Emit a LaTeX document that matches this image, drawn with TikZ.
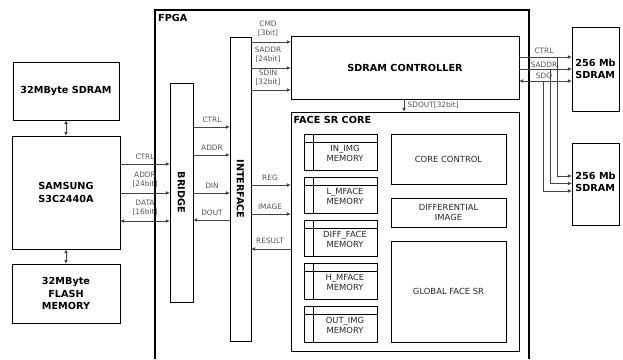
\documentclass[tikz,border=0pt]{standalone}
\usepackage{fontspec}
\setmainfont{DejaVu Sans}
\usetikzlibrary{arrows.meta}
\definecolor{lbl}{HTML}{555555}
\definecolor{ln}{HTML}{444444}
\begin{document}
\begin{tikzpicture}[x=1pt,y=-1pt,
 box/.style={draw=black, line width=0.9pt, anchor=north west, inner sep=0pt, outer sep=0pt},
 ttl/.style={font=\fontsize{9.7}{12.3}\selectfont\bfseries, align=center},
 lab/.style={font=\fontsize{7.4}{9}\selectfont, text=lbl, inner sep=0pt, align=center},
 inn/.style={font=\fontsize{8.4}{9.8}\selectfont, text=black!85, align=center, inner sep=0pt},
 conn/.style={draw=ln, line width=0.75pt},
 arr/.style={conn, -{Latex[length=4.2pt,width=3.8pt]}},
 darr/.style={conn, {Latex[length=4.2pt,width=3.8pt]}-{Latex[length=4.2pt,width=3.8pt]}},
]
\useasboundingbox (0,0) rectangle (623,359);

% FPGA frame
\draw[line width=1.7pt] (155,359) -- (155,10) -- (529,10) -- (529,359);
\node[font=\fontsize{9.7}{11}\selectfont\bfseries, anchor=west, inner sep=0pt] (fpga) at (158,17.5) {FPGA};

% left side boxes
\node[box, minimum width=106, minimum height=58] (sdram) at (13,62) {};
\node[ttl] (sdramt) at (sdram.center) {32MByte SDRAM};
\node[box, minimum width=108, minimum height=113] (samsung) at (12,136) {};
\node[ttl] (samsungt) at (samsung.center) {SAMSUNG\\S3C2440A};
\node[box, minimum width=108, minimum height=59] (flash) at (12,264) {};
\node[ttl] (flasht) at (flash.center) {32MByte\\FLASH\\MEMORY};
\draw[darr] (sdram.south) -- (samsung.north);
\draw[darr] (samsung.south) -- (flash.north);

% bridge and interface
\node[box, minimum width=23, minimum height=219] (bridge) at (170,83) {};
\node[ttl, rotate=-90] (bridget) at (bridge.center) {BRIDGE};
\node[box, minimum width=21, minimum height=304] (iface) at (230,37) {};
\node[ttl, rotate=-90] (ifacet) at (iface.center) {INTERFACE};

% samsung -> bridge
\draw[arr] (samsung.east |- 0,164) -- (bridge.west |- 0,164);
\draw[arr] (samsung.east |- 0,193) -- (bridge.west |- 0,193);
\draw[darr] (samsung.east |- 0,221) -- (bridge.west |- 0,221);
\node[lab] (l1) at (145,157) {CTRL};
\node[lab] (l2) at (145,179.5) {ADDR\\{[24bit]}};
\node[lab] (l3) at (145,208) {DATA\\{[16bit]}};

% bridge -> interface
\draw[arr] (bridge.east |- 0,127) -- (iface.west |- 0,127);
\draw[arr] (bridge.east |- 0,155) -- (iface.west |- 0,155);
\draw[arr] (bridge.east |- 0,193) -- (iface.west |- 0,193);
\draw[arr] (iface.west |- 0,220) -- (bridge.east |- 0,220);
\node[lab] (l4) at (212,120) {CTRL};
\node[lab] (l5) at (212,147.5) {ADDR};
\node[lab] (l6) at (212,185.5) {DIN};
\node[lab] (l7) at (212,213) {DOUT};

% SDRAM controller
\node[box, minimum width=228, minimum height=63] (ctl) at (291,36) {};
\node[ttl] (ctlt) at (ctl.center) {SDRAM CONTROLLER};
\draw[arr] (iface.east |- 0,42) -- (ctl.west |- 0,42);
\draw[arr] (iface.east |- 0,68) -- (ctl.west |- 0,68);
\draw[arr] (iface.east |- 0,90) -- (ctl.west |- 0,90);
\node[lab] (l8) at (268,29) {CMD\\{[3bit]}};
\node[lab] (l9) at (268,55) {SADDR\\{[24bit]}};
\node[lab] (l10) at (268,77.5) {SDIN\\{[32bit]}};

% FACE SR CORE
\node[box, minimum width=228, minimum height=239] (face) at (291,112) {};
\node[font=\fontsize{9.7}{11}\selectfont\bfseries, anchor=west, inner sep=0pt] (facet) at (293.5,119.5) {FACE SR CORE};
\draw[arr] (ctl.south -| 404,0) -- (face.north -| 404,0);
\node[lab, anchor=west] (l11) at (407.5,105) {SDOUT[32bit]};

% face <-> interface
\draw[arr] (iface.east |- 0,185) -- (face.west |- 0,185);
\draw[arr] (iface.east |- 0,214) -- (face.west |- 0,214);
\draw[arr] (face.west |- 0,249) -- (iface.east |- 0,249);
\node[lab] (l12) at (270,178) {REG};
\node[lab] (l13) at (270,206.5) {IMAGE};
\node[lab] (l14) at (270,241) {RESULT};

% memories
\foreach \nm/\tp/\txt in {m1/134/IN\_IMG, m2/177/L\_MFACE, m3/220/DIFF\_FACE, m4/263/H\_MFACE, m5/306/OUT\_IMG}{
  \node[box, minimum width=73, minimum height=36] (\nm) at (304,\tp) {};
  \draw[line width=0.9pt] ([xshift=9pt]\nm.north west) -- ([xshift=9pt]\nm.south west);
  \draw[line width=0.9pt] ([yshift=-8.5pt]\nm.north west) -- ([yshift=-8.5pt]\nm.north east);
  \node[inn] (\nm t) at ([xshift=4.5pt,yshift=-1.5pt]\nm.center) {\txt\\MEMORY};
}

% core boxes
\node[box, minimum width=115, minimum height=50] (core) at (391,134) {};
\node[inn] (coret) at (core.center) {CORE CONTROL};
\node[box, minimum width=115, minimum height=29] (diff) at (391,198) {};
\node[inn] (difft) at (diff.center) {DIFFERENTIAL\\IMAGE};
\node[box, minimum width=115, minimum height=101] (glob) at (391,241) {};
\node[inn] (globt) at (glob.center) {GLOBAL FACE SR};

% external SDRAMs
\node[box, minimum width=47, minimum height=84] (sd1) at (572,27) {};
\node[ttl, align=left] (sd1t) at ([yshift=0pt]sd1.center) {256 Mb\\SDRAM};
\node[box, minimum width=47, minimum height=82] (sd2) at (572,143) {};
\node[ttl, align=left] (sd2t) at ([yshift=2pt]sd2.center) {256 Mb\\SDRAM};

\draw[arr] (ctl.east |- 0,57) -- (sd1.west |- 0,57);
\draw[arr] (ctl.east |- 0,69) -- (sd1.west |- 0,69);
\draw[darr] (ctl.east |- 0,81) -- (sd1.west |- 0,81);
\coordinate (b1) at (557,57);
\coordinate (b2) at (550,69);
\coordinate (b3) at (543,81);
\draw[arr] (b1) |- (sd2.west |- 0,176);
\draw[arr] (b2) |- (sd2.west |- 0,183.5);
\draw[arr] (b3) |- (sd2.west |- 0,191);
\node[lab] (l15) at (544,51) {CTRL};
\node[lab] (l16) at (544,64.5) {SADDR};
\node[lab] (l17) at (544,76.5) {SDQ};
\end{tikzpicture}
\end{document}
